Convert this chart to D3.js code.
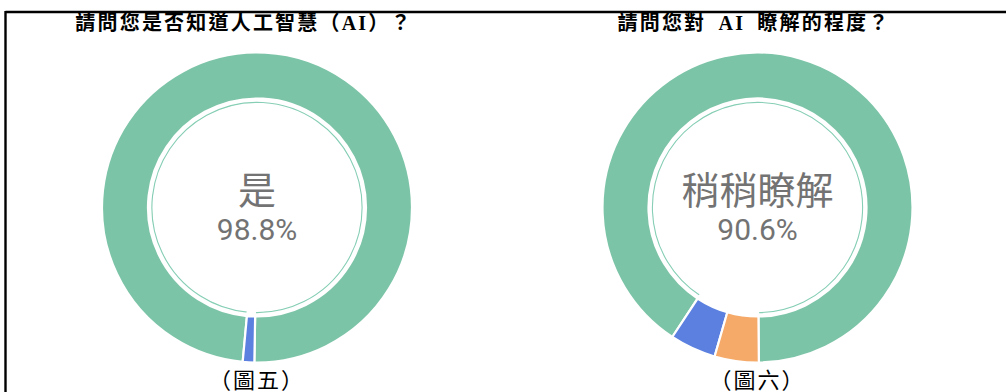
<!DOCTYPE html>
<html>
<head>
<meta charset="utf-8">
<script src="https://cdn.jsdelivr.net/npm/d3@7"></script>
<style>
  body { margin: 0; background: #fff; }
  svg { display: block; }
</style>
</head>
<body>
<svg id="chart" width="1006" height="392"></svg>
<script>
// Survey answers: awareness of AI, and self-rated understanding of AI
const awarenessCategories = ["是", "否"];
const awarenessValues = [98.8, 1.2];

const understandingCategories = ["稍稍瞭解", "非常瞭解", "不瞭解"];
const understandingValues = [90.6, 4.8, 4.6];

const titles = ["請問您是否知道人工智慧（AI）？", "請問您對 AI 瞭解的程度？"];
const captions = ["（圖五）", "（圖六）"];

const sliceColors = ["#7cc4a7", "#5b80df", "#f5aa6a"];
const innerRingColor = "#86ceb4";

const svg = d3.select("#chart");
const deg = Math.PI / 180;

// frame lines (top and left)
svg.append("line").attr("x1", 5.5).attr("x2", 1006).attr("y1", 12).attr("y2", 12)
  .attr("stroke", "#000").attr("stroke-width", 2.4);
svg.append("line").attr("x1", 5.5).attr("x2", 5.5).attr("y1", 11).attr("y2", 392)
  .attr("stroke", "#000").attr("stroke-width", 2.4);

const panels = [
  { cx: 257, cy: 207.5, titleX: 244, categories: awarenessCategories, values: awarenessValues,
    title: titles[0], caption: captions[0], start: 185.3 * deg, sweep: 2 * Math.PI },
  { cx: 757.5, cy: 207.5, titleX: 754, categories: understandingCategories, values: understandingValues,
    title: titles[1], caption: captions[1], start: 179.5 * deg, sweep: -2 * Math.PI }
];

const outerR = 155, innerR = 109;
const bandArc = d3.arc().innerRadius(innerR).outerRadius(outerR);
const ringArc = d3.arc().innerRadius(103.8).outerRadius(106.4);

panels.forEach(p => {
  const pie = d3.pie().sort(null).value(d => d.value)
    .startAngle(p.start).endAngle(p.start + p.sweep);
  const data = p.categories.map((c, i) => ({ category: c, value: p.values[i], color: sliceColors[i] }));
  const arcs = pie(data);

  const g = svg.append("g").attr("transform", `translate(${p.cx},${p.cy})`);

  g.selectAll("path.band").data(arcs).join("path")
    .attr("class", "band")
    .attr("d", bandArc)
    .attr("fill", d => d.data.color)
    .attr("stroke", "#fff")
    .attr("stroke-width", 2.2)
    .attr("stroke-linejoin", "miter");

  // thin highlight ring inside the leading slice
  g.append("path")
    .attr("d", ringArc(arcs[0]))
    .attr("fill", innerRingColor)
    .attr("stroke", "#fff")
    .attr("stroke-width", 1.5);

  // centre label for the leading answer
  g.append("text")
    .attr("x", 0).attr("y", -4)
    .attr("text-anchor", "middle")
    .attr("font-family", "'Noto Sans CJK TC', 'Noto Sans', sans-serif")
    .attr("font-size", 38)
    .attr("fill", "#737373")
    .text(arcs[0].data.category);

  g.append("text")
    .attr("x", 0).attr("y", 32.5)
    .attr("text-anchor", "middle")
    .attr("font-family", "Roboto, 'Liberation Sans', sans-serif")
    .attr("font-size", 30)
    .attr("fill", "#737373")
    .text(arcs[0].data.value + "%");

  svg.append("text")
    .attr("x", p.titleX).attr("y", 30)
    .attr("text-anchor", "middle")
    .attr("font-family", "'Liberation Serif', 'Noto Sans CJK TC', serif")
    .attr("font-weight", "bold")
    .attr("font-size", 20)
    .attr("letter-spacing", 2.2)
    .attr("word-spacing", 5)
    .attr("fill", "#000")
    .text(p.title);

  svg.append("text")
    .attr("x", p.cx).attr("y", 388)
    .attr("text-anchor", "middle")
    .attr("font-family", "'Liberation Serif', 'Noto Sans CJK TC', serif")
    .attr("font-size", 22)
    .attr("letter-spacing", 2)
    .attr("fill", "#000")
    .text(p.caption);
});
</script>
</body>
</html>
